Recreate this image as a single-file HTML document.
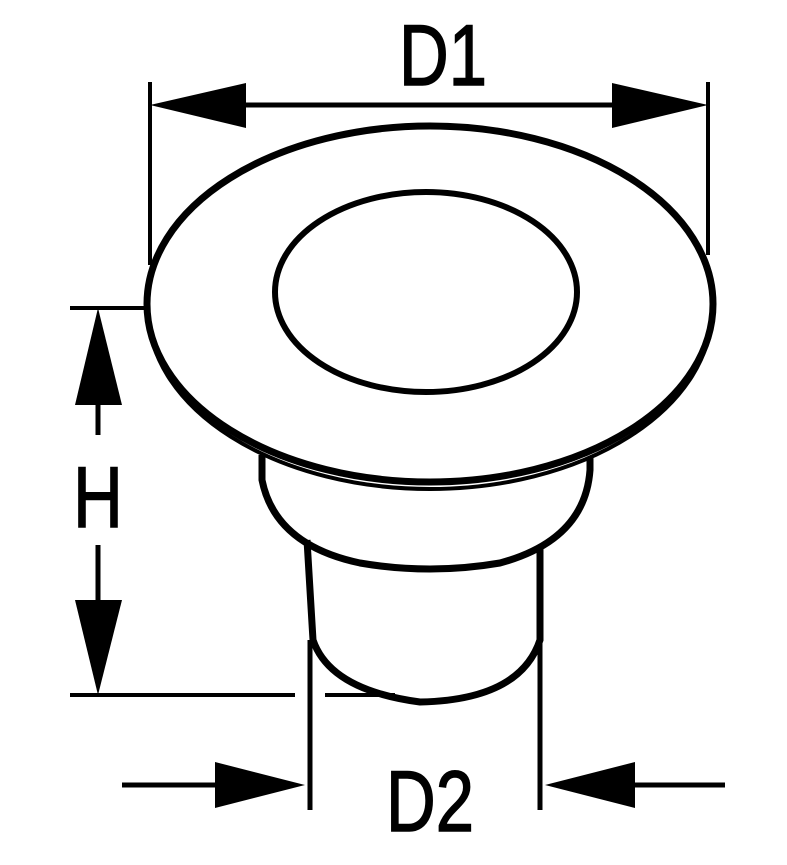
<!DOCTYPE html>
<html><head><style>body{margin:0;background:#fff}svg{display:block}</style></head>
<body>
<svg width="787" height="865" viewBox="0 0 787 865" xmlns="http://www.w3.org/2000/svg">
<g fill="none" stroke="#000" stroke-linecap="butt">
<line x1="150" y1="82" x2="150" y2="265" stroke-width="4"/>
<line x1="708" y1="82" x2="708" y2="255" stroke-width="4"/>
<line x1="240" y1="105" x2="615" y2="105" stroke-width="5"/>
<path d="M262 455 L262 480 Q275 545 360 563 Q430 575 500 563 Q585 540 590 470 L590 455" stroke-width="7"/>
<path d="M307 540 L313 640 Q330 690 420 702 Q520 700 540 640 L540 548" stroke-width="7"/>
<ellipse cx="430" cy="310" rx="282" ry="179" fill="#fff" stroke-width="4"/>
<ellipse cx="430" cy="304" rx="283" ry="178" fill="#fff" stroke-width="7"/>
<ellipse cx="426" cy="292" rx="151" ry="100" stroke-width="6"/>
<line x1="70" y1="308" x2="150" y2="308" stroke-width="4"/>
<line x1="70" y1="695" x2="295" y2="695" stroke-width="4"/>
<line x1="325" y1="695" x2="395" y2="695" stroke-width="4"/>
<line x1="98" y1="395" x2="98" y2="435" stroke-width="5"/>
<line x1="98" y1="545" x2="98" y2="610" stroke-width="5"/>
<line x1="310" y1="640" x2="310" y2="810" stroke-width="5"/>
<line x1="540" y1="640" x2="540" y2="810" stroke-width="5"/>
<line x1="122" y1="785" x2="220" y2="785" stroke-width="5"/>
<line x1="630" y1="785" x2="725" y2="785" stroke-width="5"/>
</g>
<g fill="#000">
<polygon points="150,105 246,83 246,128"/>
<polygon points="708,105 612,83 612,128"/>
<polygon points="98,308 75,405 122,405"/>
<polygon points="98,695 75,600 122,600"/>
<polygon points="305,785 215,762 215,808"/>
<polygon points="545,785 635,762 635,808"/>
</g>
<g font-family="'Liberation Sans Narrow','Liberation Sans',sans-serif" fill="#000" stroke="#000" stroke-width="1.5">
<text x="443" y="85" font-size="86" text-anchor="middle" transform="translate(443 0) scale(0.8 1) translate(-443 0)">D1</text>
<text x="98" y="527" font-size="86" text-anchor="middle" transform="translate(98 0) scale(0.8 1) translate(-98 0)">H</text>
<text x="430" y="831" font-size="86" text-anchor="middle" transform="translate(430 0) scale(0.8 1) translate(-430 0)">D2</text>
</g>
</svg>
</body></html>
